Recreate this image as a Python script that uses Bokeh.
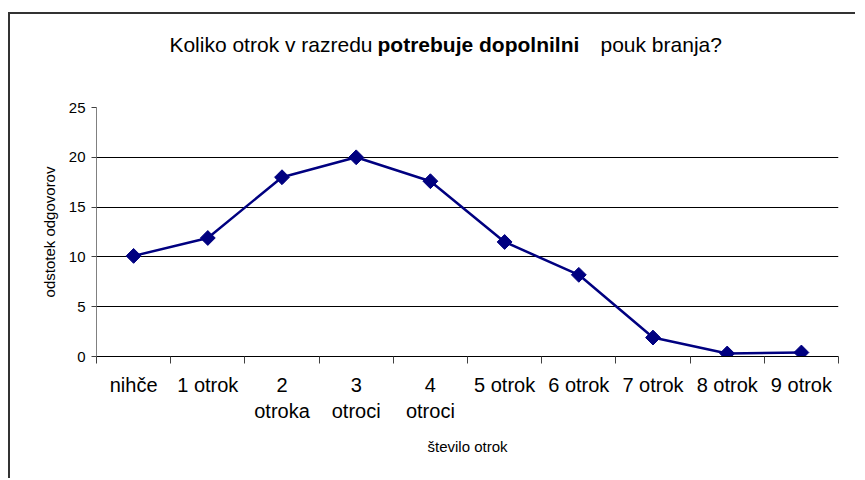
import math
from bokeh.plotting import figure
from bokeh.layouts import column
from bokeh.models import Range1d, FixedTicker, Label, ColumnDataSource
from bokeh.embed import file_html
from bokeh.resources import INLINE

# ---- data ----
categories = ["nihče", "1 otrok", "2\notroka", "3\notroci", "4\notroci",
              "5 otrok", "6 otrok", "7 otrok", "8 otrok", "9 otrok"]
percent = [10.1, 11.9, 18.0, 20.0, 17.6, 11.5, 8.2, 1.9, 0.3, 0.4]
y_ticks = [0, 5, 10, 15, 20, 25]

title_regular_1 = "Koliko otrok v razredu"
title_bold = "potrebuje dopolnilni"
title_regular_2 = "pouk branja?"
x_title = "število otrok"
y_title = "odstotek odgovorov"

FONT = "Liberation Sans"
NAVY = "#000080"
W = 845
TITLE_H = 83
MAIN_H = 381

# ---- title strip (mixed regular / bold text) ----
# its frame is aligned with the chart frame by the column layout (page x 96..838)
t = figure(width=W, height=TITLE_H, output_backend="svg", toolbar_location=None,
           x_range=Range1d(96, 838), y_range=Range1d(0, TITLE_H),
           x_axis_location=None, y_axis_location=None,
           min_border=0, min_border_left=0, min_border_right=0,
           min_border_top=0, min_border_bottom=0,
           background_fill_color="white", border_fill_color="white")
t.outline_line_color = None
t.grid.visible = False
ty = TITLE_H - 30
common = dict(y=ty, text_baseline="middle", text_font=FONT,
              text_font_size="21px", text_color="black")
t.add_layout(Label(x=372, text=title_regular_1, text_align="right", **common))
t.add_layout(Label(x=377, text=title_bold, text_align="left", text_font_style="bold", **common))
t.add_layout(Label(x=600, text=title_regular_2, text_align="left", **common))

# ---- main chart ----
xs = [i + 0.5 for i in range(len(categories))]
src = ColumnDataSource(dict(x=xs, y=percent))

p = figure(width=W, height=MAIN_H, output_backend="svg", toolbar_location=None,
           x_range=Range1d(0, len(categories)), y_range=Range1d(y_ticks[0], y_ticks[-1]),
           min_border_left=86, min_border_right=17, min_border_top=10, min_border_bottom=122,
           background_fill_color="white", border_fill_color="white")
p.outline_line_color = None

p.xgrid.grid_line_color = None
p.ygrid.grid_line_color = "black"
p.ygrid.grid_line_width = 1
p.ygrid.ticker = FixedTicker(ticks=y_ticks)

p.yaxis.ticker = FixedTicker(ticks=y_ticks)
p.yaxis.axis_line_color = "#808080"
p.yaxis.major_tick_line_color = "#404040"
p.yaxis.major_tick_out = 5
p.yaxis.major_tick_in = 0
p.yaxis.minor_tick_line_color = None
p.yaxis.major_label_text_font = FONT
p.yaxis.major_label_text_font_size = "15px"
p.yaxis.major_label_text_color = "black"
p.yaxis.major_label_standoff = 6
p.yaxis.axis_label = y_title
p.yaxis.axis_label_text_font = FONT
p.yaxis.axis_label_text_font_size = "15px"
p.yaxis.axis_label_text_font_style = "normal"
p.yaxis.axis_label_text_color = "black"
p.yaxis.axis_label_standoff = 8

p.xaxis.ticker = FixedTicker(ticks=xs, minor_ticks=list(range(len(categories) + 1)))
p.xaxis.major_label_overrides = {x: c for x, c in zip(xs, categories)}
p.xaxis.axis_line_color = "black"
p.xaxis.major_tick_line_color = None
p.xaxis.major_tick_out = 0
p.xaxis.major_tick_in = 0
p.xaxis.minor_tick_line_color = "#404040"
p.xaxis.minor_tick_out = 7
p.xaxis.minor_tick_in = 0
p.xaxis.major_label_text_font = FONT
p.xaxis.major_label_text_font_size = "20px"
p.xaxis.major_label_text_color = "black"
p.xaxis.major_label_standoff = 10
p.xaxis.axis_label = x_title
p.xaxis.axis_label_text_font = FONT
p.xaxis.axis_label_text_font_size = "15px"
p.xaxis.axis_label_text_font_style = "normal"
p.xaxis.axis_label_text_color = "black"
p.xaxis.axis_label_standoff = 13

p.line("x", "y", source=src, line_color=NAVY, line_width=2.5)
p.scatter("x", "y", source=src, marker="square", angle=math.pi / 4, size=10.5,
          fill_color=NAVY, line_color=NAVY)

layout = column(t, p, spacing=0,
                styles={"margin-top": "12px", "margin-left": "8px",
                        "border-top": "2px solid #333333",
                        "border-left": "2px solid #333333"})

open("out.html", "w").write(file_html(layout, INLINE))
